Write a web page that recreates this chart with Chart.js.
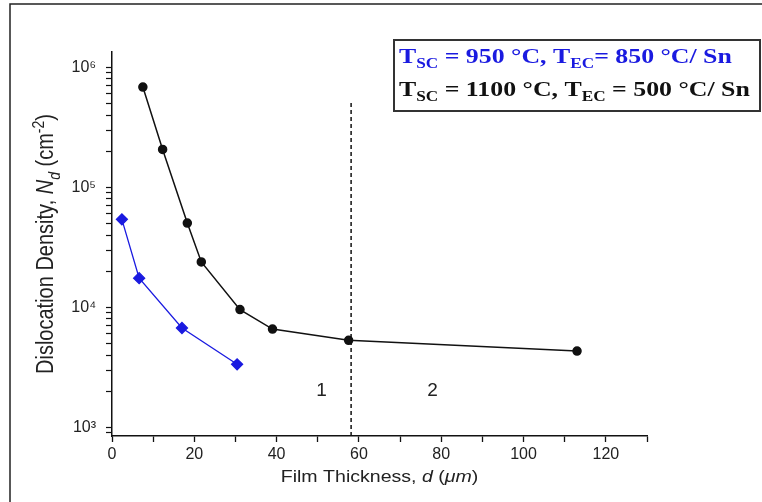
<!DOCTYPE html>
<html>
<head>
<meta charset="utf-8">
<script src="https://cdn.jsdelivr.net/npm/chart.js@4.4.1/dist/chart.umd.min.js"></script>
<style>
  body { margin: 0; background: #fff; }
  #wrap { position: relative; width: 762px; height: 502px; }
</style>
</head>
<body>
<div id="wrap"><canvas id="dislocationChart" width="762" height="502"></canvas></div>
<script>
// film thickness (um) and dislocation density (cm^-2)
const thickHigh = [7.5, 12.3, 18.3, 21.7, 31.1, 39.0, 57.5, 113.0];
const densHigh = [6.85e5, 2.07e5, 5.04e4, 2.39e4, 9.57e3, 6.59e3, 5.31e3, 4.32e3];

const thickLow = [2.4, 6.6, 17.0, 30.4];
const densLow = [5.41e4, 1.75e4, 6.72e3, 3.35e3];

// boundary between region 1 and 2
const boundaryX = [58.1, 58.1];
const boundaryY = [846, 5.14e5];

const regionNames = ['1', '2'];
const regionX = [50.9, 77.9];
const regionY = [2030, 2030];

const legendLines = [
    { color: '#1a1ae0', parts: [['T', 0], ['SC', 1], [' = 950 °C, T', 0], ['EC', 1], ['= 850 °C/ Sn', 0]] },
    { color: '#111', parts: [['T', 0], ['SC', 1], [' = 1100 °C, T', 0], ['EC', 1], [' = 500 °C/ Sn', 0]] }
];

const yMin = 846;
const yMax = 1.343e6;
const supDigits = { 3: '³', 4: '⁴', 5: '⁵', 6: '⁶' };

function toPoints(xs, ys) {
    return xs.map((x, i) => ({ x: x, y: ys[i] }));
}

// draws a run of text pieces; kind: 0 normal, 1 subscript, 2 superscript, 3 italic, 4 italic subscript
function drawRich(ctx, parts, x, y, o) {
    const small = o.small || 0.7;
    const fontFor = (kind) => {
        const isSmall = kind === 1 || kind === 2 || kind === 4;
        const italic = kind === 3 || kind === 4;
        return (italic ? 'italic ' : '') + o.weight + ' ' + (isSmall ? Math.round(o.size * small) : o.size) + 'px ' + o.family;
    };
    let total = 0;
    parts.forEach(p => { ctx.font = fontFor(p[1]); total += ctx.measureText(p[0]).width; });
    ctx.save();
    ctx.translate(x, y);
    ctx.scale(o.sx || 1, o.sy || 1);
    let cx = o.align === 'center' ? -total / 2 : 0;
    ctx.textAlign = 'left';
    ctx.textBaseline = 'alphabetic';
    parts.forEach(p => {
        ctx.font = fontFor(p[1]);
        let dy = 0;
        if (p[1] === 1 || p[1] === 4) dy = o.size * (o.drop || 0.3);
        if (p[1] === 2) dy = -o.size * 0.4;
        ctx.fillText(p[0], cx, dy);
        cx += ctx.measureText(p[0]).width;
    });
    ctx.restore();
}

const decorPlugin = {
    id: 'decor',
    beforeDraw(chart) {
        const ctx = chart.ctx;
        ctx.save();
        ctx.strokeStyle = '#222';
        ctx.lineWidth = 1.5;
        ctx.beginPath();
        ctx.moveTo(10, 502);
        ctx.lineTo(10, 4);
        ctx.lineTo(762, 4);
        ctx.stroke();
        ctx.restore();
    },
    afterDraw(chart) {
        const ctx = chart.ctx;
        const xs = chart.scales.x;
        const ys = chart.scales.y;
        ctx.save();

        // legend box
        ctx.strokeStyle = '#333';
        ctx.lineWidth = 2;
        ctx.strokeRect(394, 40, 366, 71);
        const serif = '"Liberation Serif", "Times New Roman", serif';
        legendLines.forEach((line, i) => {
            ctx.fillStyle = line.color;
            drawRich(ctx, line.parts, 399, 63 + i * 33,
                { size: 21, family: serif, weight: 'bold', align: 'left', sx: 1.23, small: 0.68, drop: 0.24 });
        });

        // axis titles
        ctx.fillStyle = '#222';
        const sans = '"Liberation Sans", Arial, sans-serif';
        drawRich(ctx, [['Film Thickness, ', 0], ['d', 3], [' (', 0], ['μm', 3], [')', 0]],
            (xs.left + xs.right) / 2, 482, { size: 17, family: sans, weight: 'normal', align: 'center', sx: 1.15 });

        ctx.save();
        ctx.translate(53, (ys.top + ys.bottom) / 2);
        ctx.rotate(-Math.PI / 2);
        drawRich(ctx, [['Dislocation Density, ', 0], ['N', 3], ['d', 4], [' (cm', 0], ['-2', 2], [')', 0]],
            0, 0, { size: 20, family: sans, weight: 'normal', align: 'center', sy: 1.15 });
        ctx.restore();

        // region numbers
        ctx.font = '19px ' + sans;
        ctx.textAlign = 'center';
        ctx.textBaseline = 'middle';
        regionNames.forEach((name, i) => {
            ctx.fillText(name, xs.getPixelForValue(regionX[i]), ys.getPixelForValue(regionY[i]));
        });
        ctx.restore();
    }
};

const ctx = document.getElementById('dislocationChart');

new Chart(ctx, {
    type: 'line',
    data: {
        datasets: [
            {
                label: 'Tsc = 1100 °C, Tec = 500 °C/ Sn',
                data: toPoints(thickHigh, densHigh),
                borderColor: '#111',
                backgroundColor: '#111',
                borderWidth: 1.5,
                pointStyle: 'circle',
                pointRadius: 4,
                tension: 0
            },
            {
                label: 'Tsc = 950 °C, Tec = 850 °C/ Sn',
                data: toPoints(thickLow, densLow),
                borderColor: '#1a1ae0',
                backgroundColor: '#1a1ae0',
                borderWidth: 1.3,
                pointStyle: 'rectRot',
                pointRadius: 5.5,
                tension: 0
            },
            {
                label: 'boundary',
                data: toPoints(boundaryX, boundaryY),
                borderColor: '#111',
                borderWidth: 1.5,
                borderDash: [4, 3],
                pointRadius: 0
            }
        ]
    },
    options: {
        responsive: false,
        animation: false,
        layout: {
            padding: { top: 52, right: 115, left: 0, bottom: 0 }
        },
        plugins: {
            legend: { display: false },
            tooltip: { enabled: false }
        },
        scales: {
            x: {
                type: 'linear',
                min: 0,
                max: 130,
                afterFit: (scale) => { scale.height = 66; },
                border: { display: true, color: '#111', width: 1.5 },
                grid: { drawOnChartArea: false, drawTicks: true, tickLength: 6, tickColor: '#111', tickWidth: 1.3 },
                ticks: {
                    stepSize: 10,
                    padding: 3,
                    maxRotation: 0,
                    color: '#222',
                    font: { family: '"Liberation Sans", Arial, sans-serif', size: 16 },
                    callback: (v) => (v % 20 === 0 ? v : '')
                }
            },
            y: {
                type: 'logarithmic',
                min: yMin,
                max: yMax,
                afterFit: (scale) => { scale.width = 112; },
                afterBuildTicks: (scale) => {
                    const ticks = [];
                    for (let e = 2; e <= 6; e++) {
                        for (let k = 1; k <= 9; k++) {
                            const v = k * Math.pow(10, e);
                            if (v >= yMin && v <= yMax) ticks.push({ value: v });
                        }
                    }
                    scale.ticks = ticks;
                },
                border: { display: true, color: '#111', width: 1.5 },
                grid: { drawOnChartArea: false, drawTicks: true, tickLength: 6, tickColor: '#111', tickWidth: 1.2 },
                ticks: {
                    autoSkip: false,
                    padding: 10,
                    color: '#222',
                    font: { family: '"Liberation Sans", Arial, sans-serif', size: 16 },
                    callback: (v) => {
                        const e = Math.log10(v);
                        if (Math.abs(e - Math.round(e)) < 1e-9) return '10' + supDigits[Math.round(e)];
                        return '';
                    }
                }
            }
        }
    },
    plugins: [decorPlugin]
});
</script>
</body>
</html>
